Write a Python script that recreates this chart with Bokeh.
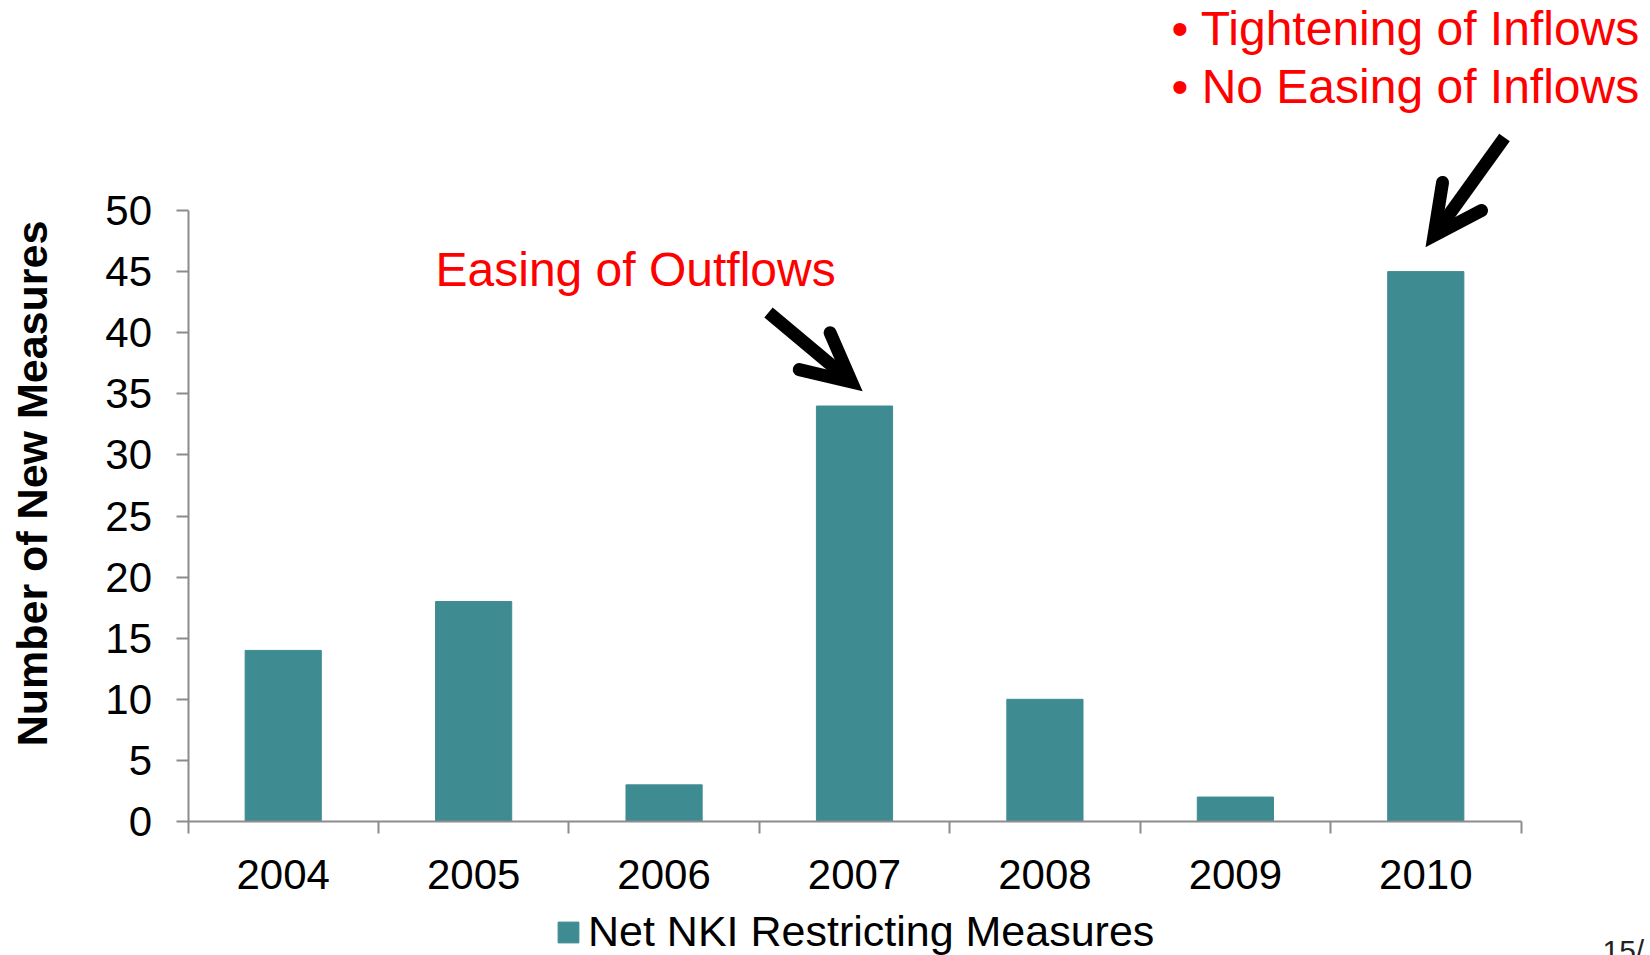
import math
from bokeh.plotting import figure
from bokeh.models import (Range1d, FixedTicker, Label, Arrow, OpenHead, Legend,
                          LegendItem, ColumnDataSource, LinearAxis)
from bokeh.embed import file_html
from bokeh.resources import INLINE

# ---- data ----
years = ["2004", "2005", "2006", "2007", "2008", "2009", "2010"]
measures = [14, 18, 3, 34, 10, 2, 45]
y_ticks = [0, 5, 10, 15, 20, 25, 30, 35, 40, 45, 50]
series_name = "Net NKI Restricting Measures"
y_title = "Number of New Measures"
note_outflows = "Easing of Outflows"
note_inflows = ["\u2022 Tightening of Inflows", "\u2022 No Easing of Inflows"]
page_note = "15/"

FONT = "Liberation Sans"
BAR = "#3E8C92"
AXIS = "#8C8C8C"
RED = "#FF0000"

W, H = 1650, 955
# pixel anchors of the axes on the canvas (left/right of category axis, y=0 and y=50)
AX_LEFT, AX_RIGHT, AX_Y0, AX_YTOP = 187.5, 1520.5, 821.0, 210.0
Y_MAX = 50
n = len(years)
ppx = (AX_RIGHT - AX_LEFT) / n          # px per category
ppy = (AX_Y0 - AX_YTOP) / Y_MAX          # px per unit

x_range = Range1d(-0.5 - AX_LEFT / ppx, -0.5 + (W - AX_LEFT) / ppx)
y_range = Range1d(-(H - AX_Y0) / ppy, AX_Y0 / ppy)

pos = list(range(n))
src = ColumnDataSource(dict(x=pos, top=measures))

p = figure(width=W, height=H, x_range=x_range, y_range=y_range,
           x_axis_type=None, y_axis_type=None,
           output_backend="svg", toolbar_location=None,
           min_border=0, min_border_left=0, min_border_right=0,
           min_border_top=0, min_border_bottom=0)
p.outline_line_color = None
p.xgrid.visible = False
p.ygrid.visible = False
p.background_fill_color = "white"
p.border_fill_color = "white"

r = p.vbar(x="x", top="top", width=0.4, bottom=0, source=src,
           fill_color=BAR, line_color=BAR, line_width=1)

# x axis (category boundaries as ticks, years as labels)
xa = LinearAxis(fixed_location=0, bounds=(-0.5, n - 0.5))
xa.ticker = FixedTicker(ticks=pos, minor_ticks=[i - 0.5 for i in range(n + 1)])
xa.major_label_overrides = {i: y for i, y in zip(pos, years)}
xa.major_tick_out = 0
xa.major_tick_in = 0
xa.minor_tick_out = 12
xa.minor_tick_in = 0
xa.minor_tick_line_color = AXIS
xa.minor_tick_line_width = 2
xa.axis_line_color = AXIS
xa.axis_line_width = 2
xa.major_label_text_font = FONT
xa.major_label_text_font_size = "42px"
xa.major_label_text_color = "black"
xa.major_label_standoff = 26
p.add_layout(xa, "below")

# y axis
ya = LinearAxis(fixed_location=-0.5, bounds=(0, Y_MAX))
ya.ticker = FixedTicker(ticks=y_ticks, minor_ticks=[])
ya.major_tick_out = 12
ya.major_tick_in = 0
ya.major_tick_line_color = AXIS
ya.major_tick_line_width = 2
ya.axis_line_color = AXIS
ya.axis_line_width = 2
ya.major_label_text_font = FONT
ya.major_label_text_font_size = "42px"
ya.major_label_text_color = "black"
ya.major_label_standoff = 24
p.add_layout(ya, "left")

# y axis title
p.add_layout(Label(x=31, y=H - 483, x_units="screen", y_units="screen",
                   text=y_title, angle=math.pi / 2, text_font=FONT,
                   text_font_size="43px", text_font_style="bold",
                   text_color="black", text_align="center", text_baseline="middle"))

# legend
legend = Legend(items=[LegendItem(label=series_name, renderers=[r])],
                location=(555, -1), orientation="horizontal",
                label_text_font=FONT, label_text_font_size="43px",
                label_text_color="black",
                glyph_width=26, glyph_height=26, label_standoff=7,
                padding=0, margin=0, spacing=0,
                border_line_color=None, background_fill_alpha=0)
p.add_layout(legend, "center")

# red annotations
common = dict(x_units="screen", y_units="screen", text_font=FONT,
              text_font_size="48px", text_color=RED,
              text_baseline="alphabetic", text_align="left")
p.add_layout(Label(x=435, y=H - 269, text=note_outflows, **common))
for txt, base in zip(note_inflows, [28, 86]):
    p.add_layout(Label(x=1171, y=H - base, text=txt, **common))

p.add_layout(Label(x=1602, y=H - 950, x_units="screen", y_units="screen",
                   text=page_note, text_font=FONT, text_font_size="30px",
                   text_color="#222222", text_baseline="alphabetic", text_align="left"))

# arrows (canvas pixel positions, y measured from the top)
for (xs, ys, xe, ye) in [(768, 312, 851, 381.5), (1504, 137, 1433.5, 235)]:
    p.add_layout(Arrow(x_start=xs, y_start=H - ys, x_end=xe, y_end=H - ye,
                       start_units="screen", end_units="screen",
                       line_color="black", line_width=13,
                       end=OpenHead(size=48, line_color="black", line_width=13,
                                    line_cap="round", line_join="miter")))

open("out.html", "w").write(file_html(p, INLINE))
